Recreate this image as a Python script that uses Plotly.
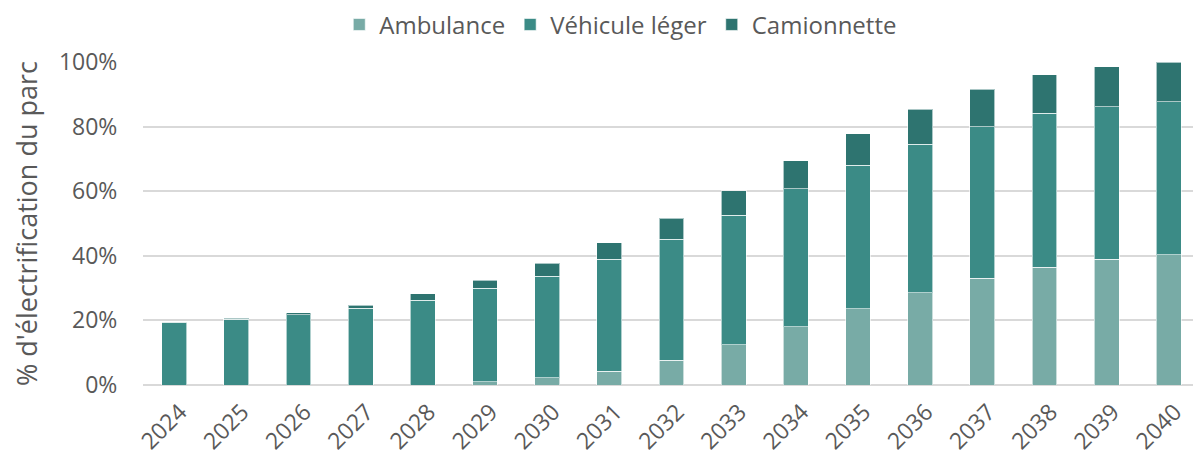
import plotly.graph_objects as go

years = [str(y) for y in range(2024, 2041)]
ambulance = [0.0, 0.0, 0.0, 0.0, 0.0, 1.0, 2.2, 4.3, 7.7, 12.4, 18.0, 23.6, 28.6, 33.1, 36.5, 39.0, 40.4]
vehicule_leger = [19.4, 20.4, 21.8, 23.7, 26.3, 28.9, 31.5, 34.6, 37.4, 40.2, 42.8, 44.4, 45.9, 46.9, 47.6, 47.2, 47.3]
camionnette = [0.2, 0.2, 0.5, 1.0, 1.9, 2.6, 4.0, 5.1, 6.5, 7.6, 8.6, 9.8, 10.9, 11.5, 11.9, 12.4, 12.3]
y_ticks = [0, 20, 40, 60, 80, 100]
y_tick_labels = ["0%", "20%", "40%", "60%", "80%", "100%"]

series = [
    ("Ambulance", ambulance, "#78aba6"),
    ("Véhicule léger", vehicule_leger, "#3b8b86"),
    ("Camionnette", camionnette, "#2e7470"),
]

FONT = "Open Sans"
GREY = "#595959"
FS = 23

fig = go.Figure()
for name, vals, col in series:
    fig.add_trace(go.Bar(
        x=years, y=vals, name=name,
        marker=dict(color=col, line=dict(color="rgba(255,255,255,0.6)", width=1)),
    ))

# page body has an 8px margin: figure is offset by (8, 8)
fig.update_layout(
    barmode="stack",
    bargap=0.6,
    width=1193, height=447,
    margin=dict(l=135, r=1, t=54, b=70, autoexpand=False),
    plot_bgcolor="white", paper_bgcolor="white",
    font=dict(family=FONT, size=FS, color=GREY),
    legend=dict(orientation="h", x=0.452, xanchor="center", y=1.115, yanchor="middle",
                font=dict(family=FONT, size=24, color=GREY),
                traceorder="normal", itemwidth=30, tracegroupgap=0),
    xaxis=dict(tickangle=-45, tickfont=dict(size=FS, color=GREY), showgrid=False,
               showline=False, ticks="", automargin=False,
               ticklabelstandoff=8, ticklabelshift=6),
    yaxis=dict(range=[0, 100], tickvals=y_ticks, ticktext=y_tick_labels,
               gridcolor="#d9d9d9", gridwidth=1.5, zeroline=True, zerolinecolor="#d9d9d9",
               zerolinewidth=1.5, tickfont=dict(size=FS, color=GREY), ticks="outside",
               ticklen=20, tickcolor="rgba(0,0,0,0)", automargin=False,
               title=dict(text="% d'électrification du parc", font=dict(size=27, color=GREY), standoff=14)),
)

fig.write_html("out.html")
